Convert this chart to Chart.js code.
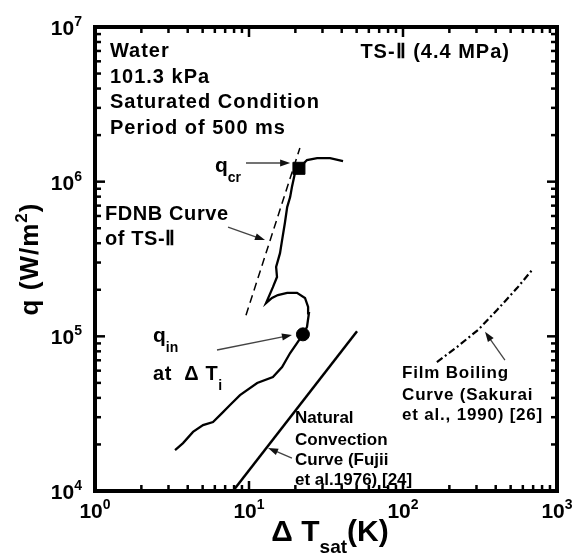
<!DOCTYPE html>
<html>
<head>
<meta charset="utf-8">
<script src="https://cdn.jsdelivr.net/npm/chart.js@4"></script>
<style>
  html, body { margin: 0; padding: 0; background: #fff; }
  #box { width: 577px; height: 556px; }
</style>
</head>
<body>
<div id="box"><canvas id="myChart"></canvas></div>
<script>
// TS-II boiling curve: wall superheat dT_sat (K) vs heat flux q (W/m2)
const boilDT = [3.31, 3.73, 4.33, 5.03, 5.84, 6.68, 7.53, 8.74, 11.3, 14.3, 16.4, 18.5, 20.5, 22.4,
                23.8, 24.5, 24.2, 23.1, 20.5, 17.7, 15.4, 14.1, 12.9,
                14.3, 15.2, 15.0, 15.9, 16.4, 17.1, 17.7, 18.5, 19.0, 19.9, 21.1, 23.8, 27.7, 33.6, 40.8];
const boilQ  = [1.84e4, 2.04e4, 2.41e4, 2.67e4, 2.79e4, 3.19e4, 3.60e4, 4.17e4, 4.99e4, 5.46e4, 6.33e4, 7.80e4, 9.05e4, 1.03e5,
                1.15e5, 1.41e5, 1.55e5, 1.77e5, 1.91e5, 1.91e5, 1.85e5, 1.77e5, 1.64e5,
                2.08e5, 2.42e5, 2.81e5, 3.45e5, 4.19e5, 5.40e5, 6.85e5, 7.95e5, 9.23e5, 1.14e6, 1.22e6, 1.38e6, 1.42e6, 1.42e6, 1.36e6];

// critical heat flux and incipient boiling point
const qcrDT = [21.1];
const qcrQ  = [1.22e6];
const qinDT = [22.4];
const qinQ  = [1.03e5];

// fully developed nucleate boiling line
const fdnbDT = [9.56, 21.4];
const fdnbQ  = [1.37e5, 1.65e6];

// natural convection (Fujii et al. 1976)
const natDT = [7.87, 50.3];
const natQ  = [1.0e4, 1.08e5];

// film boiling (Sakurai et al. 1990)
const filmDT = [166, 224, 307, 408, 550, 688];
const filmQ  = [6.82e4, 8.53e4, 1.10e5, 1.48e5, 2.05e5, 2.68e5];

// axis decades (tick labels are 10^n)
const xDecades = [0, 1, 2, 3];
const yDecades = [4, 5, 6, 7];

const FONT = '"Liberation Sans", Arial, sans-serif';

function pts(xs, ys) {
    return xs.map((v, i) => ({x: v, y: ys[i]}));
}

// draws text made of pieces (for sub/superscripts)
function drawRich(ctx, x, y, parts, align, spacing) {
    ctx.letterSpacing = (spacing || 0) + 'px';
    let w = 0;
    parts.forEach(p => {
        ctx.font = 'bold ' + p.size + 'px ' + FONT;
        w += ctx.measureText(p.text).width;
    });
    let cx = align === 'right' ? x - w : (align === 'center' ? x - w / 2 : x);
    parts.forEach(p => {
        ctx.font = 'bold ' + p.size + 'px ' + FONT;
        ctx.fillText(p.text, cx, y + (p.dy || 0));
        cx += ctx.measureText(p.text).width;
    });
    ctx.letterSpacing = '0px';
}

function arrow(ctx, x1, y1, x2, y2) {
    const a = Math.atan2(y2 - y1, x2 - x1);
    const c = Math.cos(a), s = Math.sin(a);
    ctx.strokeStyle = '#444';
    ctx.lineWidth = 1.3;
    ctx.beginPath();
    ctx.moveTo(x1, y1);
    ctx.lineTo(x2 - 7 * c, y2 - 7 * s);
    ctx.stroke();
    ctx.fillStyle = '#111';
    ctx.beginPath();
    ctx.moveTo(x2, y2);
    ctx.lineTo(x2 - 10 * c + 3.5 * s, y2 - 10 * s - 3.5 * c);
    ctx.lineTo(x2 - 10 * c - 3.5 * s, y2 - 10 * s + 3.5 * c);
    ctx.closePath();
    ctx.fill();
}

// text labels, anchored in data units (dT, q)
const notes = [
    {x: 1.25, y: 6.39e6, size: 20, sp: 1, parts: ['Water']},
    {x: 1.25, y: 4.34e6, size: 20, sp: 1, parts: ['101.3 kPa']},
    {x: 1.25, y: 2.99e6, size: 20, sp: 1, parts: ['Saturated Condition']},
    {x: 1.25, y: 2.03e6, size: 20, sp: 1, parts: ['Period of 500 ms']},
    {x: 495, y: 6.30e6, size: 20, sp: 1, parts: ['TS-\u2161 (4.4 MPa)'], align: 'right'},
    {x: 6.01, y: 1.15e6, size: 21, parts: ['q'], sub: 'cr'},
    {x: 1.16, y: 5.65e5, size: 20, sp: 0.6, parts: ['FDNB Curve']},
    {x: 1.16, y: 3.89e5, size: 20, sp: 0.6, parts: ['of TS-\u2161']},
    {x: 2.38, y: 9.19e4, size: 21, parts: ['q'], sub: 'in'},
    {x: 2.38, y: 5.22e4, size: 20, sp: 0.6, parts: ['at  \u0394 T'], sub: 'i'},
    {x: 19.9, y: 2.75e4, size: 17, parts: ['Natural']},
    {x: 19.9, y: 1.98e4, size: 17, parts: ['Convection']},
    {x: 19.9, y: 1.47e4, size: 17, parts: ['Curve (Fujii']},
    {x: 19.9, y: 1.09e4, size: 17, parts: ['et al.1976) [24]']},
    {x: 98.6, y: 5.38e4, size: 17, sp: 0.8, parts: ['Film Boiling']},
    {x: 98.6, y: 3.87e4, size: 17, sp: 0.8, parts: ['Curve (Sakurai']},
    {x: 98.6, y: 2.88e4, size: 17, sp: 0.8, parts: ['et al., 1990) [26]']}
];

// arrows from label to curve, [from, to] in data units
const pointers = [
    [[9.56, 1.32e6], [18.5, 1.32e6]],
    [[7.31, 5.09e5], [12.7, 4.19e5]],
    [[6.20, 8.16e4], [19.0, 1.02e5]],
    [[19.0, 1.63e4], [13.3, 1.90e4]],
    [[459, 7.03e4], [341, 1.07e5]]
];

const framePlugin = {
    id: 'frame',
    afterDatasetsDraw(chart) {
        const ctx = chart.ctx;
        const a = chart.chartArea;
        const xs = chart.scales.x, ys = chart.scales.y;
        ctx.save();
        ctx.fillStyle = '#000';
        ctx.textBaseline = 'alphabetic';

        // box and inward log ticks on all four sides
        ctx.strokeStyle = '#000';
        ctx.lineWidth = 4;
        ctx.strokeRect(a.left, a.top, a.right - a.left, a.bottom - a.top);
        ctx.lineWidth = 2.5;
        function seg(x1, y1, x2, y2) {
            ctx.beginPath(); ctx.moveTo(x1, y1); ctx.lineTo(x2, y2); ctx.stroke();
        }
        xDecades.forEach(d => {
            for (let m = 1; m < 10; m++) {
                if (d === xDecades[xDecades.length - 1] && m > 1) break;
                const px = xs.getPixelForValue(m * Math.pow(10, d));
                const len = m === 1 ? 10 : 6;
                seg(px, a.bottom, px, a.bottom - len);
                seg(px, a.top, px, a.top + len);
            }
        });
        yDecades.forEach(d => {
            for (let m = 1; m < 10; m++) {
                if (d === yDecades[yDecades.length - 1] && m > 1) break;
                const py = ys.getPixelForValue(m * Math.pow(10, d));
                const len = m === 1 ? 10 : 6;
                seg(a.left, py, a.left + len, py);
                seg(a.right, py, a.right - len, py);
            }
        });

        // tick labels 10^n
        xDecades.forEach(d => {
            const px = xs.getPixelForValue(Math.pow(10, d));
            drawRich(ctx, px, a.bottom + 27, [{text: '10', size: 21}, {text: String(d), size: 14, dy: -9}], 'center');
        });
        yDecades.forEach(d => {
            const py = ys.getPixelForValue(Math.pow(10, d));
            drawRich(ctx, a.left - 13, py + 8, [{text: '10', size: 21}, {text: String(d), size: 14, dy: -9}], 'right');
        });

        // axis titles
        drawRich(ctx, (a.left + a.right) / 2 + 4, 541,
            [{text: '\u0394 T', size: 30}, {text: 'sat', size: 19, dy: 12}, {text: '(K)', size: 30}], 'center');
        ctx.save();
        ctx.translate(38, (a.top + a.bottom) / 2);
        ctx.rotate(-Math.PI / 2);
        drawRich(ctx, 0, 0, [{text: 'q (W/m', size: 26}, {text: '2', size: 17, dy: -11}, {text: ')', size: 26}], 'center', 1);
        ctx.restore();

        // labels and pointers
        notes.forEach(n => {
            const px = xs.getPixelForValue(n.x), py = ys.getPixelForValue(n.y);
            const parts = [{text: n.parts[0], size: n.size}];
            if (n.sub) parts.push({text: n.sub, size: 14, dy: 10});
            drawRich(ctx, px, py, parts, n.align || 'left', n.sp);
        });
        pointers.forEach(p => {
            arrow(ctx, xs.getPixelForValue(p[0][0]), ys.getPixelForValue(p[0][1]),
                       xs.getPixelForValue(p[1][0]), ys.getPixelForValue(p[1][1]));
        });
        ctx.restore();
    }
};

const ctx = document.getElementById('myChart');
new Chart(ctx, {
    type: 'scatter',
    data: {
        datasets: [
            {
                data: pts(boilDT, boilQ),
                showLine: true,
                borderColor: '#000',
                borderWidth: 2.3,
                pointRadius: 0,
                order: 3
            },
            {
                data: pts(fdnbDT, fdnbQ),
                showLine: true,
                borderColor: '#000',
                borderWidth: 1.5,
                borderDash: [8, 5],
                pointRadius: 0
            },
            {
                data: pts(natDT, natQ),
                showLine: true,
                borderColor: '#000',
                borderWidth: 2.5,
                pointRadius: 0
            },
            {
                data: pts(filmDT, filmQ),
                showLine: true,
                borderColor: '#000',
                borderWidth: 2.2,
                borderDash: [7, 3, 2, 3],
                pointRadius: 0
            },
            {
                data: pts(qcrDT, qcrQ),
                pointStyle: 'rect',
                pointRadius: 8.5,
                backgroundColor: '#000',
                borderColor: '#000',
                order: 0
            },
            {
                data: pts(qinDT, qinQ),
                pointStyle: 'circle',
                pointRadius: 6.5,
                backgroundColor: '#000',
                borderColor: '#000',
                order: 0
            }
        ]
    },
    options: {
        responsive: true,
        maintainAspectRatio: false,
        animation: false,
        layout: {
            padding: {left: 95, right: 20, top: 27, bottom: 65}
        },
        scales: {
            x: {type: 'logarithmic', min: 1, max: 1000, display: false},
            y: {type: 'logarithmic', min: 1e4, max: 1e7, display: false}
        },
        plugins: {
            legend: {display: false},
            tooltip: {enabled: false}
        }
    },
    plugins: [framePlugin]
});
</script>
</body>
</html>
